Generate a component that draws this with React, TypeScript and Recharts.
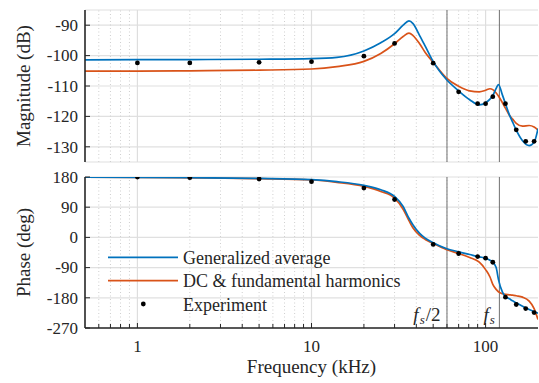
import React from 'react';
import { ComposedChart, Line, Scatter, XAxis, YAxis, CartesianGrid, ReferenceLine, Legend } from 'recharts';

// ---- data ----
const freqKHz = [0.5, 1, 2, 5, 10, 14, 20, 25, 30, 33.6, 36.3, 38.3, 41.8, 45, 50, 59.4, 70, 81, 92, 100, 106, 110, 115, 118.5, 125, 130, 137, 143, 150, 163, 178, 190, 200];
const gaMagDb = [-101.4, -101.35, -101.3, -101.2, -101.0, -100.6, -98.5, -95.8, -92.8, -90.0, -88.6, -89.5, -93.4, -96.9, -102.0, -107.8, -111.6, -114.5, -116.2, -115.5, -114.3, -113.1, -110.8, -109.5, -113.0, -115.8, -119.5, -121.9, -124.5, -128.0, -129.6, -128.5, -124.0];
const dcMagDb = [-105.1, -105.1, -105.0, -104.8, -104.4, -103.6, -101.9, -99.3, -96.1, -93.7, -92.6, -93.4, -96.1, -99.0, -102.2, -107.3, -110.1, -111.6, -111.9, -111.4, -110.9, -111.2, -112.3, -113.3, -115.5, -117.3, -119.6, -120.9, -122.3, -123.2, -123.0, -123.5, -124.5];
const gaPhaseDeg = [179.5, 179, 178, 176, 172, 166, 155, 142, 122, 92, 57, 37, 12, -2, -16, -33, -43, -51, -58, -62, -68, -74, -90, -125, -163, -176, -183, -189, -195, -205, -215, -221, -226];
const dcPhaseDeg = [179.5, 179, 177.5, 175, 171, 164, 152, 137, 117, 84, 50, 28, 6, -6, -18, -36, -48, -60, -74, -96, -118, -140, -155, -162, -168, -170, -171, -172, -174, -178, -190, -212, -245];

const expFreqKHz = [1, 2, 5, 10, 20, 30, 50, 70, 90, 100, 110, 130, 150, 170, 190];
const expMagDb = [-102.4, -102.4, -102.2, -102.0, -100.2, -96.0, -102.5, -111.9, -115.8, -115.8, -113.5, -115.8, -124.4, -128.2, -128.2];
const expPhaseDeg = [180, 178, 174, 166, 147, 113, -21, -48, -57, -62, -74, -178, -200, -212, -224];

const magTicks = [-130, -120, -110, -100, -90];
const phaseTicks = [-270, -180, -90, 0, 90, 180];
const freqMajorTicks = [1, 10, 100];
const freqMinorTicks = [0.6, 0.7, 0.8, 0.9, 2, 3, 4, 5, 6, 7, 8, 9, 20, 30, 40, 50, 60, 70, 80, 90];
const fsKHz = 120;
const fsHalfKHz = 60;

const seriesNames = ['Generalized average', 'DC & fundamental harmonics', 'Experiment'];
const BLUE = '#0072BD';
const ORANGE = '#D95319';
const AX = '#262626';
const FONT = '"Liberation Serif", "Times New Roman", Times, serif';
const serif = { fontFamily: FONT };
const cssText = `.bode-root, .bode-root * , .bode-root svg text, .bode-root svg tspan { font-family: "Liberation Serif", "Times New Roman", Times, serif !important; }`;

const magRows = freqKHz.map((f, i) => ({ f, ga: gaMagDb[i], dc: dcMagDb[i] }));
const phRows = freqKHz.map((f, i) => ({ f, ga: gaPhaseDeg[i], dc: dcPhaseDeg[i] }));
const expMagRows = expFreqKHz.map((f, i) => ({ f, v: expMagDb[i] }));
const expPhRows = expFreqKHz.map((f, i) => ({ f, v: expPhaseDeg[i] }));
const allFreqTicks = [...freqMinorTicks, ...freqMajorTicks].sort((a, b) => a - b);

const makeXTick = (dir: number, showLabel: boolean) => (props: any) => {
  const { x, y, payload } = props;
  const v = payload.value;
  const major = freqMajorTicks.includes(v);
  return (
    <g>
      <line x1={x} x2={x} y1={y} y2={y + dir * (major ? 5 : 4)} stroke={AX} strokeWidth={1} />
      {showLabel && major && (
        <text x={x} y={y + 24} textAnchor="middle" style={serif} fontSize={17} fill={AX}>{v}</text>
      )}
    </g>
  );
};

const makeYTick = (dir: number, showLabel: boolean) => (props: any) => {
  const { x, y, payload } = props;
  const v = payload.value;
  return (
    <g>
      <line x1={x} x2={x + dir * 5} y1={y} y2={y} stroke={AX} strokeWidth={1} />
      {showLabel && (
        <text x={x - 7} y={y + 5.8} textAnchor="end" style={serif} fontSize={17} fill={AX}>{String(v)}</text>
      )}
    </g>
  );
};

const yLabel = (text: string) => (props: any) => {
  const vb = props.viewBox;
  const cx = 30;
  const cy = vb.y + vb.height / 2;
  return (
    <text x={cx} y={cy} transform={`rotate(-90 ${cx} ${cy})`} textAnchor="middle" style={serif} fontSize={19} fill={AX}>{text}</text>
  );
};

const xLabel = (props: any) => {
  const vb = props.viewBox;
  return (
    <text x={vb.x + vb.width / 2} y={vb.y + 45} textAnchor="middle" style={serif} fontSize={19} fill={AX}>Frequency (kHz)</text>
  );
};

const fsLabel = (half: boolean) => (props: any) => {
  const vb = props.viewBox;
  const x = vb.x - (half ? 6.5 : 4.5);
  const y = vb.y + vb.height - 7.3;
  return (
    <text x={x} y={y} textAnchor="end" style={serif} fontSize={19} fill={AX}>
      <tspan fontStyle="italic">f</tspan>
      <tspan fontStyle="italic" fontSize={13} dx={1} dy={3}>s</tspan>
      {half ? <tspan dx={1} dy={-3}>/2</tspan> : null}
    </text>
  );
};

const dotShape = (p: any) => <circle cx={p.cx} cy={p.cy} r={2.4} fill="#000" />;

const LegendBox = () => {
  const rows = [10.3, 33.7, 57];
  return (
    <svg width={330} height={70} style={{ display: 'block', overflow: 'visible' }}>
      <line x1={8} x2={78} y1={rows[0]} y2={rows[0]} stroke={BLUE} strokeWidth={1.7} />
      <line x1={8} x2={78} y1={rows[1]} y2={rows[1]} stroke={ORANGE} strokeWidth={1.7} />
      <circle cx={43.3} cy={rows[2]} r={2.4} fill="#000" />
      {seriesNames.map((n, i) => (
        <text key={n} x={83} y={rows[i] + 6.5} style={serif} fontSize={18} fill={AX}>{n}</text>
      ))}
    </svg>
  );
};

const gridLines = () => [
  ...freqMinorTicks.map((v) => (
    <ReferenceLine key={'mi' + v} x={v} stroke="#cfcfcf" strokeDasharray="1 2.5" strokeWidth={1} />
  )),
  ...freqMajorTicks.map((v) => (
    <ReferenceLine key={'ma' + v} x={v} stroke="#dedede" strokeWidth={1.2} />
  )),
];

const axisLine = { stroke: AX, strokeWidth: 1.6 };

export default function App() {
  return (
    <div className="bode-root" style={{ position: 'absolute', left: 0, top: 0, width: 539, height: 383, background: '#fff', fontFamily: FONT }}>
      <style>{cssText}</style>
      <div style={{ position: 'absolute', left: 0, top: 0 }}>
        <ComposedChart width={539} height={165} margin={{ top: 10, right: 1, bottom: 3, left: 0 }} style={serif}>
          <CartesianGrid vertical={false} stroke="#e0e0e0" strokeWidth={1.2} />
          {gridLines()}
          <XAxis xAxisId={0} dataKey="f" type="number" scale="log" domain={[0.5, 200]} allowDataOverflow ticks={allFreqTicks} interval={0} height={0} tickSize={0} tickMargin={0} tickLine={false} axisLine={axisLine} tick={makeXTick(-1, false)} />
          <XAxis xAxisId="top" orientation="top" type="number" scale="log" domain={[0.5, 200]} allowDataOverflow ticks={allFreqTicks} interval={0} height={0} tickSize={0} tickMargin={0} tickLine={false} axisLine={axisLine} tick={makeXTick(1, false)} />
          <YAxis yAxisId={0} type="number" domain={[-135, -85]} allowDataOverflow ticks={magTicks} interval={0} width={85} tickSize={0} tickMargin={0} tickLine={false} axisLine={axisLine} tick={makeYTick(1, true)} label={{ content: yLabel('Magnitude (dB)') } as any} />
          <YAxis yAxisId="right" orientation="right" type="number" domain={[-135, -85]} allowDataOverflow ticks={magTicks} interval={0} width={0} tickSize={0} tickMargin={0} tickLine={false} axisLine={axisLine} tick={makeYTick(-1, false)} />
          <ReferenceLine x={fsHalfKHz} stroke="#707070" strokeWidth={1} />
          <ReferenceLine x={fsKHz} stroke="#707070" strokeWidth={1} />
          <Line data={magRows} dataKey="dc" name={seriesNames[1]} type="monotone" stroke={ORANGE} strokeWidth={1.7} dot={false} isAnimationActive={false} />
          <Line data={magRows} dataKey="ga" name={seriesNames[0]} type="monotone" stroke={BLUE} strokeWidth={1.7} dot={false} isAnimationActive={false} />
          <Scatter data={expMagRows} dataKey="v" name={seriesNames[2]} shape={dotShape} isAnimationActive={false} />
        </ComposedChart>
      </div>
      <div style={{ position: 'absolute', left: 0, top: 165 }}>
        <ComposedChart width={539} height={218} margin={{ top: 12, right: 1, bottom: 0, left: 0 }} style={serif}>
          <CartesianGrid vertical={false} stroke="#e0e0e0" strokeWidth={1.2} />
          {gridLines()}
          <XAxis xAxisId={0} dataKey="f" type="number" scale="log" domain={[0.5, 200]} allowDataOverflow ticks={allFreqTicks} interval={0} height={55} tickSize={0} tickMargin={0} tickLine={false} axisLine={axisLine} tick={makeXTick(-1, true)} label={{ content: xLabel } as any} />
          <XAxis xAxisId="top" orientation="top" type="number" scale="log" domain={[0.5, 200]} allowDataOverflow ticks={allFreqTicks} interval={0} height={0} tickSize={0} tickMargin={0} tickLine={false} axisLine={axisLine} tick={makeXTick(1, false)} />
          <YAxis yAxisId={0} type="number" domain={[-270, 180]} allowDataOverflow ticks={phaseTicks} interval={0} width={85} tickSize={0} tickMargin={0} tickLine={false} axisLine={axisLine} tick={makeYTick(1, true)} label={{ content: yLabel('Phase (deg)') } as any} />
          <YAxis yAxisId="right" orientation="right" type="number" domain={[-270, 180]} allowDataOverflow ticks={phaseTicks} interval={0} width={0} tickSize={0} tickMargin={0} tickLine={false} axisLine={axisLine} tick={makeYTick(-1, false)} />
          <ReferenceLine x={fsHalfKHz} stroke="#707070" strokeWidth={1} label={fsLabel(true)} />
          <ReferenceLine x={fsKHz} stroke="#707070" strokeWidth={1} label={fsLabel(false)} />
          <Line data={phRows} dataKey="dc" name={seriesNames[1]} type="monotone" stroke={ORANGE} strokeWidth={1.7} dot={false} isAnimationActive={false} />
          <Line data={phRows} dataKey="ga" name={seriesNames[0]} type="monotone" stroke={BLUE} strokeWidth={1.7} dot={false} isAnimationActive={false} />
          <Scatter data={expPhRows} dataKey="v" name={seriesNames[2]} shape={dotShape} isAnimationActive={false} />
          <Legend layout="vertical" align="center" verticalAlign="middle" wrapperStyle={{ left: 100, top: 82, width: 330, height: 70 }} content={() => <LegendBox />} />
        </ComposedChart>
      </div>
    </div>
  );
}
